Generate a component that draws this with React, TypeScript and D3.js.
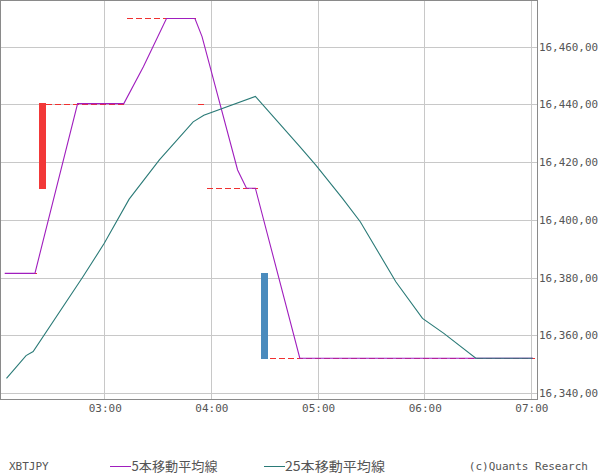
import * as React from 'react';
import * as d3 from 'd3';

// 5-period moving average (purple)
const ma5Times = ['02:04', '02:21', '02:45', '03:11', '03:22', '03:35', '03:51', '03:55', '04:15', '04:20', '04:25', '04:50', '07:01'];
const ma5Values = [16381.5, 16381.5, 16440.3, 16440.3, 16453.1, 16469.8, 16469.8, 16463.5, 16417.3, 16411.0, 16411.0, 16352.1, 16352.1];

// 25-period moving average (teal)
const ma25Times = ['02:05', '02:16', '02:20', '02:48', '03:00', '03:14', '03:31', '03:50', '03:56', '04:25', '04:50', '04:59', '05:14', '05:24', '05:44', '05:59', '06:11', '06:29', '07:01'];
const ma25Values = [16345.1, 16353.0, 16354.4, 16380.3, 16391.9, 16407.2, 16420.8, 16434.0, 16436.3, 16442.8, 16425.4, 16419.0, 16407.5, 16399.4, 16378.6, 16365.9, 16360.7, 16352.1, 16352.1];

// price levels (red dashed)
const levelStart = ['02:04', '02:27', '03:13', '03:53', '03:58', '04:33'];
const levelEnd = ['02:22', '03:11', '03:52', '03:57', '04:27', '07:02:30'];
const levelValues = [16381.5, 16440.3, 16469.8, 16440.3, 16411.0, 16352.1];

// bars
const barTimes = ['02:25', '04:30'];
const barFrom = [16410.8, 16381.6];
const barTo = [16440.5, 16351.8];
const barColors = ['#f23838', '#4a8bbd'];

const xTickLabels = ['03:00', '04:00', '05:00', '06:00', '07:00'];
const yTicks = [16340, 16360, 16380, 16400, 16420, 16440, 16460];

const parse = (s: string) => {
  const p = s.split(':').map(Number);
  return new Date(2020, 0, 1, p[0], p[1], p[2] || 0);
};

const W = 600, H = 475;
const plotW = 537, plotH = 399;
const mono = '"DejaVu Sans Mono", monospace';
const cjk = '"Noto Sans CJK JP", "DejaVu Sans", sans-serif';

export default function App() {
  const x = d3.scaleTime()
    .domain([parse('02:01:21'), parse('07:03:25')])
    .range([0, plotW]);
  const y = d3.scaleLinear().domain([16337.97, 16476.2]).range([plotH, 0]);

  const line = d3.line<[Date, number]>().x(d => x(d[0])).y(d => y(d[1]));
  const ma5 = line(ma5Times.map((t, i) => [parse(t), ma5Values[i]]));
  const ma25 = line(ma25Times.map((t, i) => [parse(t), ma25Values[i]]));
  const fmt = d3.format(',');

  return (
    <svg width={W} height={H} style={{ display: 'block' }}>
      <style>{'body{margin:0}'}</style>
      <rect x={0} y={0} width={W} height={H} fill="#fff" />
      <g shapeRendering="crispEdges">
        {yTicks.map(v => (
          <line key={v} x1={0} x2={plotW} y1={Math.round(y(v)) + 0.5} y2={Math.round(y(v)) + 0.5} stroke="#c8c8c8" />
        ))}
        {xTickLabels.map(t => (
          <line key={t} x1={Math.round(x(parse(t))) + 0.5} x2={Math.round(x(parse(t))) + 0.5} y1={0} y2={plotH} stroke="#c8c8c8" />
        ))}
      </g>
      {levelValues.map((v, i) => (
        <line key={i} x1={x(parse(levelStart[i]))} x2={x(parse(levelEnd[i]))}
          y1={Math.round(y(v)) + 0.5} y2={Math.round(y(v)) + 0.5}
          stroke="#f03030" strokeDasharray="6,3" shapeRendering="crispEdges" />
      ))}
      {barTimes.map((t, i) => (
        <rect key={t} x={x(parse(t)) - 3.5} width={7}
          y={y(Math.max(barFrom[i], barTo[i]))}
          height={Math.abs(y(barFrom[i]) - y(barTo[i]))}
          fill={barColors[i]} shapeRendering="crispEdges" />
      ))}
      <path d={ma5 || ''} fill="none" stroke="#a01ebe" strokeWidth={1.1} />
      <path d={ma25 || ''} fill="none" stroke="#2a7a77" strokeWidth={1.1} />
      <rect x={0.5} y={0.5} width={plotW} height={plotH - 0.5} fill="none" stroke="#8a8a8a" shapeRendering="crispEdges" />
      <g fontFamily={mono} fontSize={11} fill="#555">
        {yTicks.map(v => (
          <text key={v} x={539} y={y(v) + 4} textLength={59} lengthAdjust="spacingAndGlyphs">{fmt(v) + ',00'}</text>
        ))}
        {xTickLabels.map(t => (
          <text key={t} x={x(parse(t)) + 1} y={412} textAnchor="middle">{t}</text>
        ))}
        <text x={9} y={470}>XBTJPY</text>
        <text x={588} y={470} textAnchor="end">(c)Quants Research</text>
      </g>
      <line x1={110} x2={131} y1={466.5} y2={466.5} stroke="#a01ebe" shapeRendering="crispEdges" />
      <text x={131.5} y={471} fontFamily={cjk} fontSize={13} fill="#555" textLength={86} lengthAdjust="spacingAndGlyphs">5本移動平均線</text>
      <line x1={264} x2={285} y1={466.5} y2={466.5} stroke="#2a7a77" shapeRendering="crispEdges" />
      <text x={285} y={471} fontFamily={cjk} fontSize={13} fill="#555" textLength={100} lengthAdjust="spacingAndGlyphs">25本移動平均線</text>
    </svg>
  );
}
